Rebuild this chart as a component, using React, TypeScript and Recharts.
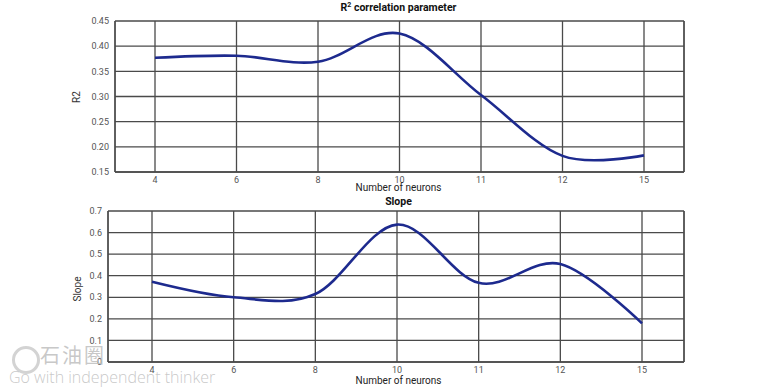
import React from "react";
import { LineChart, Line, XAxis, YAxis, CartesianGrid } from "recharts";

const neurons = ["4", "6", "8", "10", "11", "12", "15"];
const r2Values = [0.377, 0.381, 0.369, 0.425, 0.303, 0.182, 0.183];
const slopeValues = [0.372, 0.3, 0.315, 0.637, 0.367, 0.454, 0.179];
const r2Ticks = [0.15, 0.2, 0.25, 0.3, 0.35, 0.4, 0.45];
const slopeTicks = [0, 0.1, 0.2, 0.3, 0.4, 0.5, 0.6, 0.7];

const r2Data = neurons.map((n, i) => ({ n, v: r2Values[i] }));
const slopeData = neurons.map((n, i) => ({ n, v: slopeValues[i] }));

// Cardinal (Catmull-Rom-like) curve factory, same interface as d3-shape curves
function cardinalCurve(context: any) {
  const k = 1 / 6;
  const s: any = { x0: NaN, x1: NaN, x2: NaN, y0: NaN, y1: NaN, y2: NaN, p: 0, line: NaN };
  const seg = (x: number, y: number) => {
    context.bezierCurveTo(
      s.x1 + k * (s.x2 - s.x0),
      s.y1 + k * (s.y2 - s.y0),
      s.x2 + k * (s.x1 - x),
      s.y2 + k * (s.y1 - y),
      s.x2,
      s.y2
    );
  };
  const api = {
    areaStart() { s.line = 0; },
    areaEnd() { s.line = NaN; },
    lineStart() { s.x0 = s.x1 = s.x2 = s.y0 = s.y1 = s.y2 = NaN; s.p = 0; },
    lineEnd() {
      if (s.p === 2) context.lineTo(s.x2, s.y2);
      else if (s.p === 3) seg(s.x1, s.y1);
      if (s.line || (s.line !== 0 && s.p === 1)) context.closePath();
      s.line = 1 - s.line;
    },
    point(x: number, y: number) {
      x = +x; y = +y;
      if (s.p === 0) { s.p = 1; s.line ? context.lineTo(x, y) : context.moveTo(x, y); }
      else if (s.p === 1) { s.p = 2; s.x1 = x; s.y1 = y; }
      else { if (s.p === 2) s.p = 3; seg(x, y); }
      s.x0 = s.x1; s.x1 = s.x2; s.x2 = x;
      s.y0 = s.y1; s.y1 = s.y2; s.y2 = y;
    },
  };
  return api;
}

const FONT = "Roboto, 'Open Sans', sans-serif";
const GRID = "#4a4a4a";
const LINE = "#1d2a8e";
const tickStyle = { fontSize: 9, fill: "#555", fontFamily: FONT };

const abs = (extra: React.CSSProperties): React.CSSProperties => ({
  position: "absolute",
  fontFamily: FONT,
  whiteSpace: "nowrap",
  lineHeight: 1,
  ...extra,
});

export default function App() {
  return (
    <div style={{ position: "absolute", left: 0, top: 0, width: 775, height: 388, background: "#fff", overflow: "hidden" }}>
      <div style={{ position: "absolute", left: 0, top: 0 }}>
        <LineChart width={775} height={195} data={r2Data} margin={{ top: 21, right: 0, bottom: 0, left: 0 }}>
          <CartesianGrid stroke={GRID} strokeWidth={1.3} fill="none" />
          <XAxis
            dataKey="n"
            padding={{ left: 40, right: 40 }}
            tickLine={false}
            axisLine={{ stroke: GRID, strokeWidth: 1.3 }}
            tick={tickStyle}
            tickSize={0}
            tickMargin={5}
            height={23}
            interval={0}
          />
          <YAxis
            domain={[0.15, 0.45]}
            ticks={r2Ticks}
            tickFormatter={(v: number) => v.toFixed(2)}
            tickLine={false}
            axisLine={{ stroke: GRID, strokeWidth: 1.3 }}
            tick={tickStyle}
            tickSize={0}
            tickMargin={6}
            width={115}
            interval={0}
          />
          <YAxis
            yAxisId="r"
            orientation="right"
            domain={[0.15, 0.45]}
            tick={false}
            tickLine={false}
            axisLine={{ stroke: GRID, strokeWidth: 1.3 }}
            width={91}
          />
          <Line type={cardinalCurve as any} dataKey="v" stroke={LINE} strokeWidth={2.6} dot={false} isAnimationActive={false} />
        </LineChart>
      </div>
      <div style={{ position: "absolute", left: 0, top: 195 }}>
        <LineChart width={775} height={193} data={slopeData} margin={{ top: 16, right: 0, bottom: 0, left: 0 }}>
          <CartesianGrid stroke={GRID} strokeWidth={1.3} fill="none" />
          <XAxis
            dataKey="n"
            padding={{ left: 44, right: 42 }}
            tickLine={false}
            axisLine={{ stroke: GRID, strokeWidth: 1.3 }}
            tick={tickStyle}
            tickSize={0}
            tickMargin={5}
            height={26}
            interval={0}
          />
          <YAxis
            domain={[0, 0.7]}
            ticks={slopeTicks}
            tickLine={false}
            axisLine={{ stroke: GRID, strokeWidth: 1.3 }}
            tick={tickStyle}
            tickSize={0}
            tickMargin={6}
            width={108}
            interval={0}
          />
          <YAxis
            yAxisId="r"
            orientation="right"
            domain={[0, 0.7]}
            tick={false}
            tickLine={false}
            axisLine={{ stroke: GRID, strokeWidth: 1.3 }}
            width={91}
          />
          <Line type={cardinalCurve as any} dataKey="v" stroke={LINE} strokeWidth={2.6} dot={false} isAnimationActive={false} />
        </LineChart>
      </div>

      <div style={abs({ left: 0, width: 797, top: 3, textAlign: "center", fontSize: 10.5, fontWeight: 700, color: "#111" })}>
        R<sup style={{ fontSize: 7, verticalAlign: "top", position: "relative", top: -1 }}>2</sup> correlation parameter
      </div>
      <div style={abs({ left: 0, width: 797, top: 183, textAlign: "center", fontSize: 10, color: "#222" })}>
        Number of neurons
      </div>
      <div style={abs({ left: 0, width: 797, top: 197, textAlign: "center", fontSize: 10.5, fontWeight: 700, color: "#111" })}>
        Slope
      </div>
      <div style={abs({ left: 0, width: 797, top: 376, textAlign: "center", fontSize: 10, color: "#222" })}>
        Number of neurons
      </div>
      <div style={abs({ left: 77, top: 97, fontSize: 10, color: "#333", transform: "translate(-50%,-50%) rotate(-90deg)" })}>
        R2
      </div>
      <div style={abs({ left: 78, top: 289, fontSize: 10, color: "#333", transform: "translate(-50%,-50%) rotate(-90deg)" })}>
        Slope
      </div>

      <div style={abs({ left: 40, top: 345, fontSize: 20, color: "rgba(190,190,190,0.85)", fontFamily: "'Noto Sans CJK SC', sans-serif", letterSpacing: 2 })}>
        石油圈
      </div>
      <div style={abs({ left: 12, top: 346, width: 22, height: 22, borderRadius: "50%", border: "3px solid rgba(200,200,200,0.8)" })} />
      <div style={abs({ left: 9, top: 369, fontSize: 16, color: "rgba(190,190,190,0.85)", fontFamily: "'Open Sans', sans-serif", fontWeight: 300 })}>
        Go with independent thinker
      </div>
    </div>
  );
}
